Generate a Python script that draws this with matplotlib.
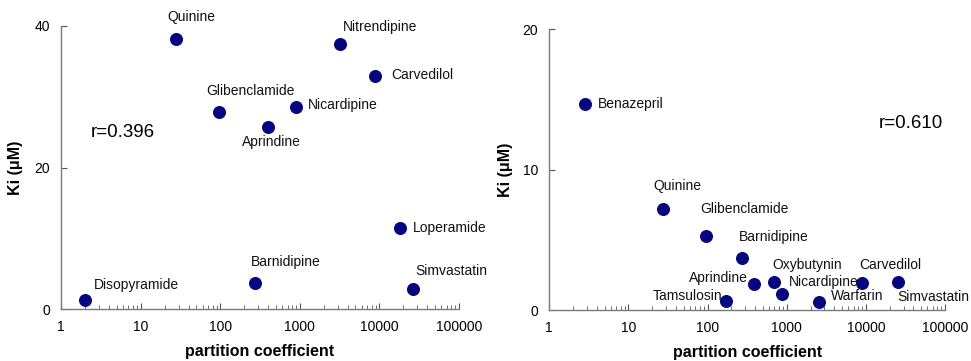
import numpy as np
import matplotlib.pyplot as plt

plt.rcParams['font.family'] = ['Liberation Sans', 'DejaVu Sans']

# left panel data
drugs_a = ['Disopyramide', 'Quinine', 'Glibenclamide', 'Aprindine', 'Nicardipine',
           'Barnidipine', 'Nitrendipine', 'Carvedilol', 'Loperamide', 'Simvastatin']
pc_a = [2, 28, 97, 395, 905, 276, 3170, 8900, 18200, 26200]
ki_a = [1.3, 38.1, 27.9, 25.7, 28.6, 3.7, 37.4, 33.0, 11.5, 2.8]

# right panel data
drugs_b = ['Benazepril', 'Quinine', 'Glibenclamide', 'Barnidipine', 'Aprindine',
           'Oxybutynin', 'Nicardipine', 'Tamsulosin', 'Warfarin', 'Carvedilol', 'Simvastatin']
pc_b = [2.85, 27.3, 94.5, 270, 386, 684, 880, 171, 2560, 8850, 25300]
ki_b = [14.7, 7.22, 5.27, 3.73, 1.88, 1.97, 1.14, 0.64, 0.57, 1.95, 2.02]

r_a = 'r=0.396'
r_b = 'r=0.610'

# label offsets in pixels (dx, dy, ha)
offs_a = [(9, 15, 'left'), (-9, 22, 'left'), (-13, 21, 'left'), (-26, -15, 'left'),
          (11, 2, 'left'), (-4, 21, 'left'), (3, 17, 'left'), (16, 1, 'left'),
          (13, 0, 'left'), (3, 18, 'left')]
offs_b = [(13, 0, 'left'), (-10, 23, 'left'), (-5, 27, 'left'), (-3, 21, 'left'),
          (-6, 6, 'right'), (-1, 17, 'left'), (7, 12, 'left'), (-4, 5, 'right'),
          (12, 6, 'left'), (-2, 18, 'left'), (0, -15, 'left')]

navy = '#06067f'

fig = plt.figure(figsize=(9.71, 3.61), dpi=100)
ax1 = fig.add_axes([0.0628, 0.144, 0.41, 0.784])
ax2 = fig.add_axes([0.5657, 0.141, 0.4075, 0.778])


def draw(ax, pc, ki, names, offs, ymax, yticks, rtxt, rpos, ylx):
    ax.scatter(pc, ki, s=70, color=navy, zorder=3, clip_on=False)
    for x, y, n, (dx, dy, ha) in zip(pc, ki, names, offs):
        ax.annotate(n, (x, y), xytext=(dx, dy), textcoords='offset pixels',
                    ha=ha, va='center', fontsize=10, color='#111111')
    ax.set_xscale('log')
    ax.set_xlim(1, 100000)
    ax.set_ylim(0, ymax)
    ax.set_xticks([1, 10, 100, 1000, 10000, 100000])
    ax.set_xticklabels(['1', '10', '100', '1000', '10000', '100000'])
    ax.set_yticks(yticks)
    ax.spines['top'].set_visible(False)
    ax.spines['right'].set_visible(False)
    for s in ['left', 'bottom']:
        ax.spines[s].set_color('#7a7a7a')
        ax.spines[s].set_linewidth(1.0)
    ax.tick_params(which='both', direction='in', color='#555555', labelsize=10)
    ax.tick_params(which='major', length=4, pad=8)
    ax.tick_params(which='minor', length=3)
    ax.set_xlabel('partition coefficient', fontsize=11.5, fontweight='bold')
    ax.set_ylabel('Ki (μM)', fontsize=11.5, fontweight='bold')
    ax.xaxis.set_label_coords(0.5, -0.125)
    ax.yaxis.set_label_coords(ylx, 0.5)
    ax.text(rpos[0], rpos[1], rtxt, transform=ax.transAxes, fontsize=13.5,
            ha='left', va='center')


draw(ax1, pc_a, ki_a, drugs_a, offs_a, 40, [0, 20, 40], r_a, (0.075, 0.624), -0.095)
draw(ax2, pc_b, ki_b, drugs_b, offs_b, 20, [0, 10, 20], r_b, (0.832, 0.665), -0.092)

fig.savefig('out.png', dpi=100)
